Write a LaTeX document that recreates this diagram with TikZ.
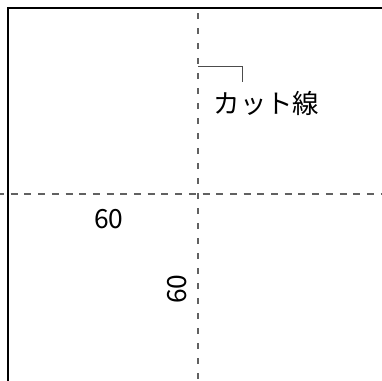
\documentclass[tikz,border=0pt]{standalone}
\usepackage{fontspec}
\setmainfont{Noto Sans CJK JP}
\begin{document}
\begin{tikzpicture}[x=1bp,y=-1bp,
  frame/.style={black,line width=2bp},
  cutline/.style={draw=black!62,line width=1.5bp},
  hcut/.style={cutline,dash pattern=on 7bp off 6.7bp,dash phase=3bp},
  vcut/.style={cutline,dash pattern=on 5.5bp off 9.5bp,dash phase=7bp},
  leader/.style={draw=black!70,line width=1bp},
  lbl/.style={inner sep=0pt,font=\fontsize{26.5}{30}\selectfont}]
\useasboundingbox (0,0) rectangle (382,381);
\coordinate (tr) at (382,8);
\coordinate (tl) at (8,8);
\coordinate (bl) at (8,381);
\coordinate (hl) at (0,194);
\coordinate (hr) at (382,194);
\coordinate (vt) at (198,5);
\coordinate (vb) at (198,381);
\coordinate (la) at (198,66.5);
\coordinate (lb) at (242.5,66.5);
\coordinate (lc) at (242.5,82);
\draw[frame] (tr) -- (tl) -- (bl);
\draw[hcut] (hl) -- (hr);
\draw[vcut] (vt) -- (vb);
\draw[leader] (la) -- (lb) -- (lc);
\node[lbl] (cut) at (266.5,103) {カット線};
\node[lbl] (w) at (109,219) {60};
\node[lbl,rotate=90] (h) at (177.5,289) {60};
\end{tikzpicture}
\end{document}
